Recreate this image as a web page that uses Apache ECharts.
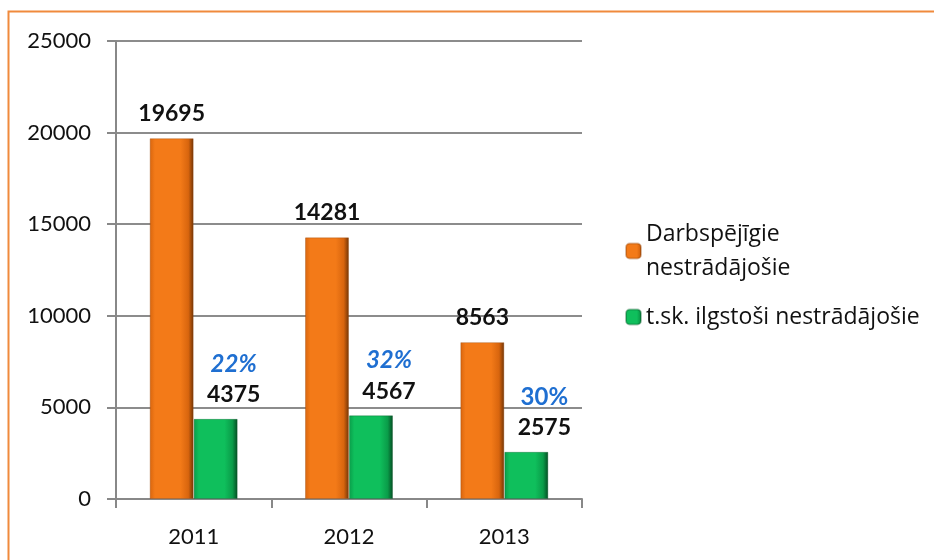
<!DOCTYPE html>
<html>
<head>
<meta charset="utf-8">
<script src="https://cdn.jsdelivr.net/npm/echarts@6/dist/echarts.min.js"></script>
<style>
  html, body { margin: 0; padding: 0; background: #fff; }
  #chart { width: 934px; height: 560px; }
</style>
</head>
<body>
<div id="chart"></div>
<script>
const years = ['2011', '2012', '2013'];
const seriesNames = ['Darbspējīgie nestrādājošie', 't.sk. ilgstoši nestrādājošie'];
const ableUnemployed = [19695, 14281, 8563];
const longTerm = [4375, 4567, 2575];
const shareLabels = ['22%', '32%', '30%'];
const shareItalic = [true, true, false];
const yTicks = [0, 5000, 10000, 15000, 20000, 25000];

const font = 'Lato, "Open Sans", sans-serif';

function barFill(light, mid, dark) {
  return new echarts.graphic.LinearGradient(0, 0, 1, 0, [
    { offset: 0, color: mid },
    { offset: 0.12, color: light },
    { offset: 0.7, color: light },
    { offset: 0.88, color: mid },
    { offset: 1, color: dark }
  ]);
}

const chart = echarts.init(document.getElementById('chart'));

chart.setOption({
  animation: false,
  textStyle: { fontFamily: font },
  graphic: [{
    type: 'rect',
    shape: { x: 8.5, y: 11.5, width: 2000, height: 2000 },
    style: { fill: 'none', stroke: '#f08a3c', lineWidth: 2 },
    silent: true
  }],
  grid: { left: 116, top: 41, right: 352, bottom: 61, containLabel: false },
  legend: {
    orient: 'vertical',
    left: 620,
    top: 212,
    itemWidth: 15,
    itemHeight: 15,
    itemGap: 15,
    data: seriesNames,
    formatter: function (n) { return n === seriesNames[0] ? 'Darbspējīgie\nnestrādājošie' : n; },
    textStyle: { fontSize: 23, color: '#111', lineHeight: 34, fontFamily: '"Open Sans", Lato, sans-serif' }
  },
  xAxis: {
    type: 'category',
    data: years,
    axisLine: { lineStyle: { color: '#888', width: 2 } },
    axisTick: { show: true, length: 9, lineStyle: { color: '#888', width: 2 } },
    axisLabel: { fontSize: 22, color: '#111', margin: 27, fontFamily: font }
  },
  yAxis: {
    type: 'value',
    min: yTicks[0],
    max: yTicks[yTicks.length - 1],
    interval: 5000,
    axisLine: { show: true, lineStyle: { color: '#888', width: 2 } },
    axisTick: { show: true, length: 9, lineStyle: { color: '#888', width: 2 } },
    splitLine: { lineStyle: { color: '#8c8c8c', width: 2 } },
    axisLabel: {
      fontSize: 22, color: '#111', margin: 25, fontFamily: font,
      formatter: function (v) { return String(v); }
    }
  },
  series: [
    {
      name: seriesNames[0],
      type: 'bar',
      data: ableUnemployed,
      barWidth: 44,
      barGap: '0%',
      itemStyle: {
        color: barFill('#f37a18', '#d8650e', '#6e3306'),
        borderColor: 'rgba(150,70,10,0.35)',
        borderWidth: 1
      },
      label: {
        show: true,
        position: 'top',
        distance: 13,
        fontSize: 23,
        fontWeight: 'bold',
        color: '#111',
        fontFamily: font
      }
    },
    {
      name: seriesNames[1],
      type: 'bar',
      data: longTerm,
      barWidth: 44,
      barGap: '0%',
      itemStyle: {
        color: barFill('#0fbf5c', '#0a9c49', '#044a22'),
        borderColor: 'rgba(10,90,40,0.35)',
        borderWidth: 1
      },
      label: {
        show: true,
        position: 'top',
        distance: 11,
        offset: [18, 0],
        formatter: function (p) {
          const key = shareItalic[p.dataIndex] ? 'pi' : 'pu';
          return '{' + key + '|' + shareLabels[p.dataIndex] + '}\n{v|' + p.value + '}';
        },
        rich: {
          pi: { fontSize: 24, fontWeight: 'bold', fontStyle: 'italic', color: '#1f6fd1', lineHeight: 36, fontFamily: font },
          pu: { fontSize: 24, fontWeight: 'bold', color: '#1f6fd1', lineHeight: 36, fontFamily: font },
          v: { fontSize: 23, fontWeight: 'bold', color: '#111', lineHeight: 26, fontFamily: font }
        }
      }
    }
  ]
});
</script>
</body>
</html>
